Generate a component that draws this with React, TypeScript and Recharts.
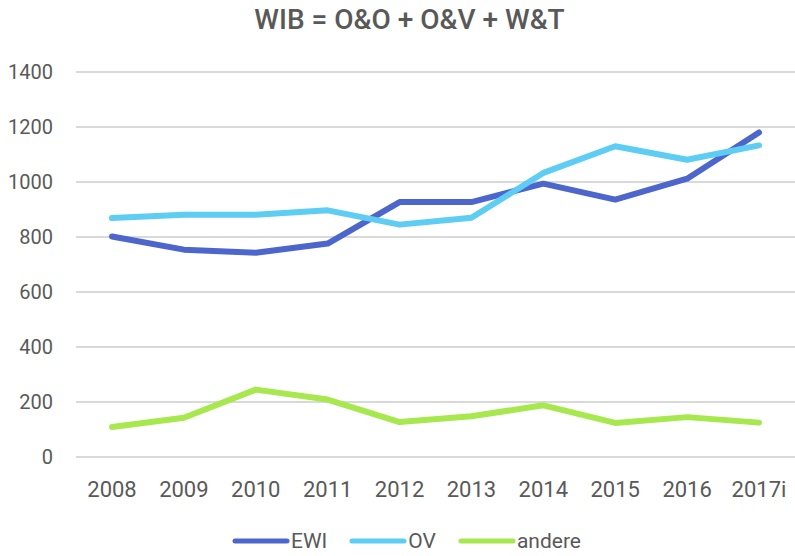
import React from "react";
import { LineChart, Line, XAxis, YAxis, CartesianGrid, Legend } from "recharts";

const years = ["2008", "2009", "2010", "2011", "2012", "2013", "2014", "2015", "2016", "2017i"];
const ewi = [802, 754, 743, 776, 927, 927, 994, 936, 1012, 1180];
const ov = [869, 881, 881, 897, 845, 870, 1033, 1130, 1081, 1133];
const andere = [109, 143, 245, 209, 127, 148, 188, 124, 145, 125];
const yTicks = [0, 200, 400, 600, 800, 1000, 1200, 1400];

const seriesNames = ["EWI", "OV", "andere"];
const seriesColors = ["#4D66CB", "#5DCDF3", "#A6E84E"];

const data = years.map((y, i) => ({ year: y, EWI: ewi[i], OV: ov[i], andere: andere[i] }));

const FONT = "Roboto, 'Open Sans', sans-serif";
const TEXT = "#595959";

const LegendContent = () => (
  <div style={{ height: 40, display: "flex", justifyContent: "center", alignItems: "center", paddingTop: 10, boxSizing: "border-box", paddingLeft: 18 }}>
    {seriesNames.map((n, i) => (
      <div key={n} style={{ display: "flex", alignItems: "center", marginRight: i < 2 ? 22 : 0 }}>
        <svg width={58} height={10}>
          <line x1={3} y1={5} x2={55} y2={5} stroke={seriesColors[i]} strokeWidth={5} strokeLinecap="round" />
        </svg>
        <span style={{ fontFamily: FONT, fontSize: 21, color: TEXT, marginLeft: 1 }}>{n}</span>
      </div>
    ))}
  </div>
);

export default function App() {
  return (
    <div style={{ position: "absolute", left: 0, top: 0, width: 795, height: 556, background: "#fff" }}>
      <div style={{ position: "absolute", top: 2, left: 12, width: 795, textAlign: "center", fontFamily: FONT, fontSize: 28, color: TEXT, fontWeight: 500, lineHeight: "36px" }}>
        WIB = O&amp;O + O&amp;V + W&amp;T
      </div>
      <LineChart width={795} height={556} data={data} margin={{ top: 72, right: 0, bottom: 0, left: 0 }}>
        <CartesianGrid vertical={false} stroke="#D9D9D9" strokeWidth={2} />
        <XAxis
          dataKey="year"
          axisLine={false}
          tickLine={false}
          tickSize={0}
          tickMargin={24}
          height={59}
          interval={0}
          padding={{ left: 36, right: 36 }}
          tick={{ fill: TEXT, fontSize: 22, fontFamily: FONT }}
        />
        <YAxis
          domain={[0, 1400]}
          ticks={yTicks}
          axisLine={false}
          tickLine={false}
          tickSize={0}
          tickMargin={23}
          width={76}
          tick={{ fill: TEXT, fontSize: 20, fontFamily: FONT }}
        />
        <Legend verticalAlign="bottom" content={<LegendContent />} />
        {seriesNames.map((n, i) => (
          <Line
            key={n}
            dataKey={n}
            stroke={seriesColors[i]}
            strokeWidth={6}
            strokeLinecap="round"
            strokeLinejoin="round"
            dot={false}
            activeDot={false}
            isAnimationActive={false}
          />
        ))}
      </LineChart>
    </div>
  );
}
